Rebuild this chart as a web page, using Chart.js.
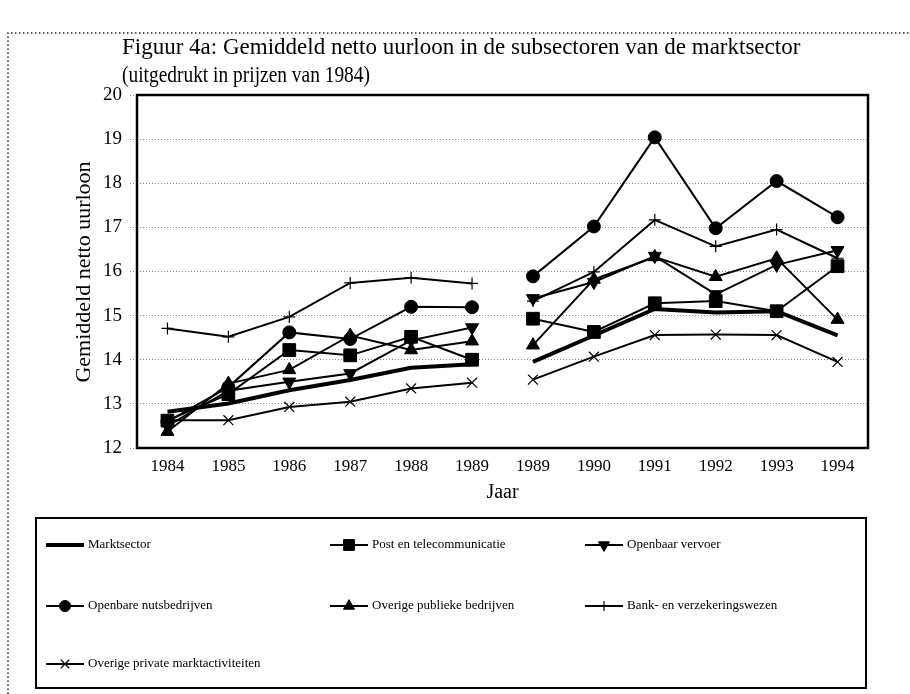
<!DOCTYPE html>
<html>
<head>
<meta charset="utf-8">
<script src="https://cdn.jsdelivr.net/npm/chart.js@4.4.1/dist/chart.umd.min.js"></script>
<style>
  html, body { margin: 0; padding: 0; background: #fff; }
  #wrap { width: 910px; height: 694px; position: relative; }
</style>
</head>
<body>
<div id="wrap"><canvas id="chart"></canvas></div>
<script>
const labels = ['1984', '1985', '1986', '1987', '1988', '1989', '1989', '1990', '1991', '1992', '1993', '1994'];

const marktsector = [12.82, 13.01, 13.31, 13.54, 13.82, 13.9, 13.95, 14.55, 15.15, 15.07, 15.1, 14.55];
const post = [12.62, 13.22, 14.22, 14.1, 14.52, 14.0, 14.93, 14.63, 15.28, 15.33, 15.1, 16.12];
const vervoer = [12.5, 13.3, 13.5, 13.69, 14.44, 14.73, 15.39, 15.76, 16.35, 15.48, 16.15, 16.48];
const nuts = [12.6, 13.38, 14.62, 14.47, 15.2, 15.19, 15.89, 17.02, 19.04, 16.98, 18.05, 17.23];
const publiek = [12.37, 13.46, 13.77, 14.55, 14.22, 14.42, 14.33, 15.82, 16.33, 15.88, 16.3, 14.91];
const bank = [14.71, 14.52, 14.97, 15.74, 15.86, 15.73, 15.33, 15.99, 17.17, 16.57, 16.95, 16.3];
const privaat = [12.63, 12.63, 12.93, 13.05, 13.35, 13.48, 13.55, 14.07, 14.56, 14.57, 14.56, 13.95];

const seriesNames = ['Marktsector', 'Post en telecommunicatie', 'Openbaar vervoer', 'Openbare nutsbedrijven',
    'Overige publieke bedrijven', 'Bank- en verzekeringswezen', 'Overige private marktactiviteiten'];

// break the line between the two 1989 columns
const gap = ctx => ctx.p0DataIndex === 5 ? 'rgba(0,0,0,0)' : undefined;

function makeSet(name, data, style, radius, width, rotation) {
    return {
        label: name,
        data: data,
        borderColor: '#000',
        backgroundColor: '#000',
        borderWidth: width,
        pointStyle: style,
        pointRadius: radius,
        pointHoverRadius: radius,
        pointRotation: rotation || 0,
        pointBorderWidth: (style === 'cross' || style === 'crossRot') ? 1.2 : 1,
        pointBackgroundColor: '#000',
        pointBorderColor: '#000',
        tension: 0,
        fill: false,
        segment: { borderColor: gap }
    };
}

const datasets = [
    makeSet(seriesNames[0], marktsector, 'circle', 0, 4),
    makeSet(seriesNames[1], post, 'rect', 9, 2),
    makeSet(seriesNames[2], vervoer, 'triangle', 7.5, 2, 180),
    makeSet(seriesNames[3], nuts, 'circle', 6.5, 2),
    makeSet(seriesNames[4], publiek, 'triangle', 7.5, 2),
    makeSet(seriesNames[5], bank, 'cross', 6, 2),
    makeSet(seriesNames[6], privaat, 'crossRot', 7, 2)
];

const serif = '"Liberation Serif", "Times New Roman", serif';

const decorations = {
    id: 'decorations',
    beforeDraw(chart) {
        const ctx = chart.ctx;
        ctx.save();
        ctx.fillStyle = '#fff';
        ctx.fillRect(0, 0, chart.width, chart.height);
        ctx.restore();
    },
    afterDraw(chart) {
        const ctx = chart.ctx;
        const a = chart.chartArea;
        ctx.save();

        // outer dotted frame
        ctx.strokeStyle = '#222';
        ctx.lineWidth = 1.5;
        ctx.setLineDash([1.5, 2.5]);
        ctx.beginPath();
        ctx.moveTo(8, 694);
        ctx.lineTo(8, 33);
        ctx.lineTo(910, 33);
        ctx.stroke();
        ctx.setLineDash([]);

        // plot frame
        ctx.strokeStyle = '#000';
        ctx.lineWidth = 2.5;
        ctx.strokeRect(a.left, a.top, a.right - a.left, a.bottom - a.top);

        // titles
        ctx.fillStyle = '#000';
        ctx.textAlign = 'left';
        ctx.textBaseline = 'middle';
        ctx.font = '23px ' + serif;
        ctx.fillText('Figuur 4a: Gemiddeld netto uurloon in de subsectoren van de marktsector', 122, 48, 681);
        ctx.fillText('(uitgedrukt in prijzen van 1984)', 122, 76, 248);

        ctx.font = '20px ' + serif;
        ctx.textAlign = 'center';
        ctx.fillText('Jaar', (a.left + a.right) / 2, 493);

        ctx.save();
        ctx.translate(84, 272);
        ctx.rotate(-Math.PI / 2);
        ctx.font = '22px ' + serif;
        ctx.fillText('Gemiddeld netto uurloon', 0, 0);
        ctx.restore();

        // legend box
        ctx.lineWidth = 2;
        ctx.strokeRect(36, 518, 830, 170);
        const cols = [46, 330, 585];
        const rows = [545, 606, 664];
        ctx.font = '13px ' + serif;
        ctx.textAlign = 'left';
        chart.data.datasets.forEach((ds, i) => {
            const x0 = cols[i % 3];
            const y = rows[Math.floor(i / 3)];
            ctx.strokeStyle = '#000';
            ctx.lineWidth = ds.borderWidth;
            ctx.beginPath();
            ctx.moveTo(x0, y);
            ctx.lineTo(x0 + 38, y);
            ctx.stroke();
            if (ds.pointRadius > 0) {
                ctx.fillStyle = '#000';
                ctx.strokeStyle = '#000';
                ctx.lineWidth = ds.pointBorderWidth;
                Chart.helpers.drawPoint(ctx, {
                    pointStyle: ds.pointStyle,
                    rotation: ds.pointRotation,
                    radius: ds.pointRadius * 0.85,
                    borderWidth: ds.pointBorderWidth
                }, x0 + 19, y);
            }
            ctx.fillStyle = '#000';
            ctx.fillText(ds.label, x0 + 42, y);
        });

        ctx.restore();
    }
};

new Chart(document.getElementById('chart'), {
    type: 'line',
    data: { labels: labels, datasets: datasets },
    options: {
        responsive: true,
        maintainAspectRatio: false,
        animation: false,
        layout: { padding: { left: 0, top: 95, right: 42, bottom: 216 } },
        plugins: {
            legend: { display: false },
            title: { display: false },
            tooltip: { enabled: false }
        },
        scales: {
            x: {
                offset: true,
                grid: { display: false, drawTicks: false },
                border: { display: false },
                ticks: { color: '#000', font: { family: serif, size: 17 }, padding: 8, maxRotation: 0, autoSkip: false },
                afterFit: scale => { scale.height = 30; }
            },
            y: {
                min: 12,
                max: 20,
                grid: { color: '#888', lineWidth: 1, tickLength: 7, drawTicks: true, tickBorderDash: [1, 2] },
                border: { display: false, dash: [1, 2] },
                ticks: { stepSize: 1, color: '#000', font: { family: serif, size: 19 }, padding: 8 },
                afterFit: scale => { scale.width = 137; }
            }
        }
    },
    plugins: [decorations]
});
</script>
</body>
</html>
